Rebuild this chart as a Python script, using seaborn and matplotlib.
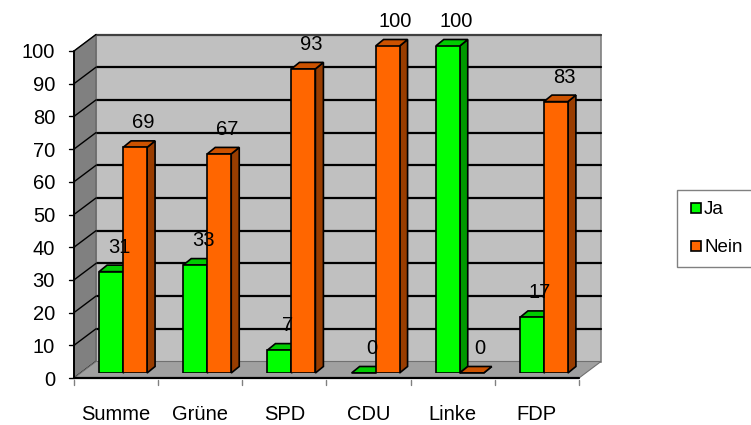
import pandas as pd
import numpy as np
import matplotlib
matplotlib.use("Agg")
import matplotlib.pyplot as plt
from matplotlib.patches import Polygon
from matplotlib.lines import Line2D
import seaborn as sns

sns.set_style("white")
plt.rcParams['font.family'] = ['Liberation Sans', 'DejaVu Sans']
plt.rcParams['text.color'] = 'black'

# data
parties = ["Summe", "Grüne", "SPD", "CDU", "Linke", "FDP"]
ja = [31, 33, 7, 0, 100, 17]
nein = [69, 67, 93, 100, 0, 83]
answers = ["Ja", "Nein"]
yticks = [0, 10, 20, 30, 40, 50, 60, 70, 80, 90, 100]

df = pd.DataFrame({
    "Partei": parties * 2,
    "Antwort": ["Ja"] * len(parties) + ["Nein"] * len(parties),
    "Wert": ja + nein,
})

front_col = {"Ja": "#00FF00", "Nein": "#FF6600"}
top_col = {"Ja": "#00CC00", "Nein": "#CC5200"}
side_col = {"Ja": "#009900", "Nein": "#993D00"}

W, H = 751, 425
fig = plt.figure(figsize=(W / 100, H / 100), dpi=100)
# axes = plane in which the bars stand (a bit behind the front edge)
ax = fig.add_axes([81 / W, (H - 373) / H, 505 / W, 327 / H])

sns.barplot(data=df, x="Partei", y="Wert", hue="Antwort", order=parties,
            hue_order=answers, palette=front_col, saturation=1, width=0.57,
            edgecolor="black", linewidth=1.2, legend=False, ax=ax)
ax.set_xlim(-0.5, 5.5)
ax.set_ylim(0, 100)
ax.axis("off")

# pixel -> data units
PX = 6 / 505
PY = 100 / 327


def pt(x, y, dx, dy):
    return (x + dx * PX, y + dy * PY)


F = (-7, -5)      # front edge offset
B = (15, 11.5)    # back wall offset
x0, x1 = -0.5, 5.5

# back wall
ax.add_patch(Polygon([pt(x0, 0, *B), pt(x1, 0, *B), pt(x1, 100, *B), pt(x0, 100, *B)],
                     closed=True, facecolor="#C0C0C0", edgecolor="#808080", lw=1.2,
                     zorder=0.1, clip_on=False))
for v in yticks[1:-1]:
    a, b = pt(x0, v, *B), pt(x1, v, *B)
    ax.plot([a[0], b[0]], [a[1], b[1]], color="black", lw=1.6, zorder=0.2, clip_on=False)
a, b = pt(x0, 100, *B), pt(x1, 100, *B)
ax.plot([a[0], b[0]], [a[1], b[1]], color="#404040", lw=1.6, zorder=0.2, clip_on=False)

# left wall
ax.add_patch(Polygon([pt(x0, 0, *F), pt(x0, 100, *F), pt(x0, 100, *B), pt(x0, 0, *B)],
                     closed=True, facecolor="#808080", edgecolor="#606060", lw=0.8,
                     zorder=0.3, clip_on=False))
for v in yticks:
    a, b = pt(x0, v, *F), pt(x0, v, *B)
    ax.plot([a[0], b[0]], [a[1], b[1]], color="black", lw=1.0, zorder=0.35, clip_on=False)

# floor
ax.add_patch(Polygon([pt(x0, 0, *F), pt(x1, 0, *F), pt(x1, 0, *B), pt(x0, 0, *B)],
                     closed=True, facecolor="#A0A0A0", edgecolor="#707070", lw=0.8,
                     zorder=0.4, clip_on=False))

# front axis lines
a, b = pt(x0, 0, *F), pt(x1, 0, *F)
ax.plot([a[0], b[0]], [a[1], b[1]], color="black", lw=1.6, zorder=5, clip_on=False)
a, b = pt(x0, 0, *F), pt(x0, 100, *F)
ax.plot([a[0], b[0]], [a[1], b[1]], color="black", lw=1.4, zorder=5, clip_on=False)

# y ticks and labels
for v in yticks:
    a = pt(x0, v, *F)
    ax.plot([a[0], a[0] - 5 * PX], [a[1], a[1]], color="black", lw=1.0, clip_on=False)
    ax.text(a[0] - 19 * PX, a[1], str(v), ha="right", va="center_baseline",
            fontsize=14.5, color="black")

# x ticks and labels
for i in range(len(parties) + 1):
    a = pt(x0 + i, 0, *F)
    ax.plot([a[0], a[0]], [a[1] - 2 * PY, a[1] - 7 * PY], color="#808080", lw=1.0,
            clip_on=False)
for i, p in enumerate(parties):
    a = pt(i, 0, *F)
    ax.text(a[0], a[1] - 42 * PY, p, ha="center", va="baseline", fontsize=14.5,
            color="black")

# 3d faces of the bars + value labels
DX, DY = 8 * PX, 6.5 * PY
for k, (cont, ans) in enumerate(zip(ax.containers, answers)):
    z = 3 + k
    for bar in cont:
        bx, bw, bh = bar.get_x(), bar.get_width(), bar.get_height()
        bar.set_zorder(z)
        ax.add_patch(Polygon([(bx + bw, 0), (bx + bw + DX, DY), (bx + bw + DX, bh + DY),
                              (bx + bw, bh)], closed=True, facecolor=side_col[ans],
                             edgecolor="black", lw=1.2, zorder=z - 0.1, clip_on=False))
        ax.add_patch(Polygon([(bx, bh), (bx + bw, bh), (bx + bw + DX, bh + DY),
                              (bx + DX, bh + DY)], closed=True, facecolor=top_col[ans],
                             edgecolor="black", lw=1.2, zorder=z - 0.1, clip_on=False))
        ax.text(bx + bw / 2 + 8 * PX, bh + 19 * PY, f"{bh:.0f}", ha="center",
                va="baseline", fontsize=14.5, color="black", zorder=10)

# legend
handles = [Line2D([], [], marker="s", linestyle="none", markersize=7,
                  markerfacecolor=front_col[a], markeredgecolor="black",
                  markeredgewidth=1.2) for a in answers]
leg = fig.legend(handles, answers, loc="upper left", bbox_to_anchor=(677 / W, 1 - 190 / H),
                 frameon=True, fancybox=False, edgecolor="#606060", fontsize=13.5,
                 handletextpad=0.05, handlelength=0.8, borderpad=0.6, labelspacing=1.1,
                 borderaxespad=0)
for t in leg.get_texts():
    t.set_color("black")

fig.savefig("out.png", dpi=100)
